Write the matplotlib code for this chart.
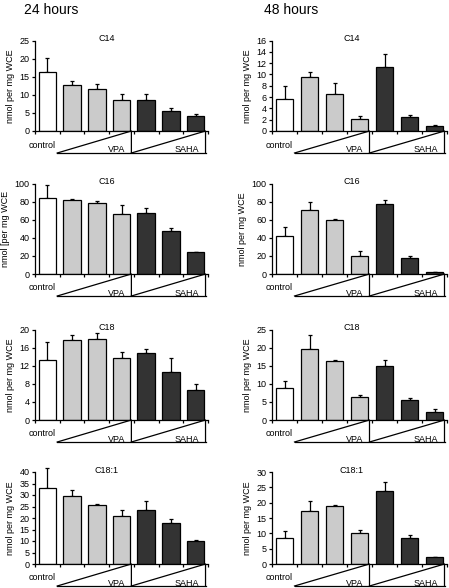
import matplotlib.pyplot as plt
plt.switch_backend('agg')
from matplotlib.transforms import blended_transform_factory
import numpy as np

plt.rcParams['font.family'] = ['Liberation Sans', 'DejaVu Sans']

# bar order: control, VPA x3 (increasing dose), SAHA x3 (increasing dose)
acids = ['C14', 'C16', 'C18', 'C18:1']

# 24 hours: means and upper error bar ends
h24_c14 = [16.2, 12.6, 11.7, 8.5, 8.7, 5.5, 4.1]
h24_c14_top = [20.2, 13.8, 13.1, 10.1, 10.1, 6.4, 4.6]
h24_c16 = [84.4, 81.5, 78.5, 66.7, 67.8, 47.0, 24.0]
h24_c16_top = [98.0, 83.0, 80.5, 76.7, 73.0, 51.0, 24.8]
h24_c18 = [13.2, 17.7, 18.0, 13.6, 14.8, 10.7, 6.7]
h24_c18_top = [17.2, 18.7, 19.3, 15.1, 15.6, 13.6, 7.9]
h24_c181 = [33.1, 29.6, 25.6, 20.9, 23.5, 18.0, 9.8]
h24_c181_top = [41.7, 32.1, 26.0, 23.5, 27.3, 19.4, 10.4]

# 48 hours
h48_c14 = [5.7, 9.5, 6.5, 2.2, 11.4, 2.5, 0.8]
h48_c14_top = [7.9, 10.4, 8.4, 2.7, 13.6, 2.8, 1.07]
h48_c16 = [42.3, 70.6, 59.6, 20.2, 77.2, 17.6, 2.2]
h48_c16_top = [51.5, 79.8, 60.7, 25.4, 81.6, 19.5, 2.5]
h48_c18 = [8.9, 19.7, 16.3, 6.3, 14.8, 5.6, 2.1]
h48_c18_top = [10.8, 23.6, 16.7, 6.9, 16.5, 6.0, 3.1]
h48_c181 = [8.6, 17.4, 18.8, 10.2, 23.8, 8.6, 2.2]
h48_c181_top = [10.8, 20.5, 19.3, 11.2, 26.8, 9.5, 2.2]

h24_ymax = [25, 100, 20, 40]
h24_step = [5, 20, 4, 5]
h48_ymax = [16, 100, 25, 30]
h48_step = [2, 20, 5, 5]

h24_ylabels = ['nmol per mg WCE', 'nmol [per mg WCE', 'nmol per mg WCE', 'nmol per mg WCE']
h48_ylabels = ['nmol per mg WCE'] * 4

colors = ['white', '#cbcbcb', '#cbcbcb', '#cbcbcb', '#333333', '#333333', '#333333']

W, H = 449, 588
fig = plt.figure(figsize=(W / 100, H / 100), dpi=100)

rows_px = [(40.5, 131), (183.5, 274), (329.5, 420), (472, 564)]
cols_px = [(35, 173), (272, 175)]

fig.text(51 / W, 1 - 10 / H, '24 hours', fontsize=10, ha='center', va='center')
fig.text(291 / W, 1 - 10 / H, '48 hours', fontsize=10, ha='center', va='center')

data = [
    [h24_c14, h24_c16, h24_c18, h24_c181],
    [h48_c14, h48_c16, h48_c18, h48_c181],
]
tops = [
    [h24_c14_top, h24_c16_top, h24_c18_top, h24_c181_top],
    [h48_c14_top, h48_c16_top, h48_c18_top, h48_c181_top],
]
ymaxes = [h24_ymax, h48_ymax]
steps = [h24_step, h48_step]
ylabels = [h24_ylabels, h48_ylabels]

x = np.arange(7)
lw = 0.9

for c, (x0, w) in enumerate(cols_px):
    for r, (top, bot) in enumerate(rows_px):
        ax = fig.add_axes([x0 / W, 1 - bot / H, w / W, (bot - top) / H])
        vals = np.array(data[c][r])
        errs = np.array(tops[c][r]) - vals
        eb = ax.errorbar(x, vals, yerr=[np.zeros(7), errs], fmt='none', ecolor='black',
                         elinewidth=lw, capsize=1.5, capthick=lw, zorder=1)
        # error bars may poke above the axis top, as in the original
        for art in eb.lines[1] + eb.lines[2]:
            art.set_clip_on(False)
        ax.bar(x, vals, width=0.71, color=colors, edgecolor='black', linewidth=lw, zorder=2)

        ax.set_xlim(-0.5, 6.5)
        ax.set_ylim(0, ymaxes[c][r])
        ax.set_yticks(np.arange(0, ymaxes[c][r] + 0.1, steps[c][r]))
        ax.set_xticks(np.arange(-0.5, 7, 1))
        ax.set_xticklabels([])
        ax.tick_params(direction='out', length=2.5, width=lw, labelsize=6.5, pad=1.5)
        for s in ['top', 'right']:
            ax.spines[s].set_visible(False)
        for s in ['left', 'bottom']:
            ax.spines[s].set_linewidth(lw)
        ax.set_ylabel(ylabels[c][r], fontsize=6.5, labelpad=3)

        tr = blended_transform_factory(ax.transData, ax.transAxes)
        ax.text(2.4 if c == 0 else 2.7, 1.02, acids[r], fontsize=6.5,
                transform=tr, ha='center', va='center')

        # dose triangles under the axis (about 22 px tall)
        tri_h = 22.0 / (bot - top)
        ax.plot([0.4, 3.4, 3.4], [-tri_h, 0, -tri_h], color='black', lw=lw,
                transform=tr, clip_on=False)
        ax.plot([3.4, 6.4, 6.4], [-tri_h, 0, -tri_h], color='black', lw=lw,
                transform=tr, clip_on=False)
        ax.plot([0.4, 6.4], [-tri_h, -tri_h], color='black', lw=lw,
                transform=tr, clip_on=False)
        ax.text(-0.2, -14.0 / (bot - top), 'control', fontsize=6.5, transform=tr,
                ha='center', va='center')
        ax.text(2.8, -19.0 / (bot - top), 'VPA', fontsize=6.5, transform=tr,
                ha='center', va='center')
        ax.text(5.65, -19.0 / (bot - top), 'SAHA', fontsize=6.5, transform=tr,
                ha='center', va='center')

plt.savefig('out.png', dpi=100)
